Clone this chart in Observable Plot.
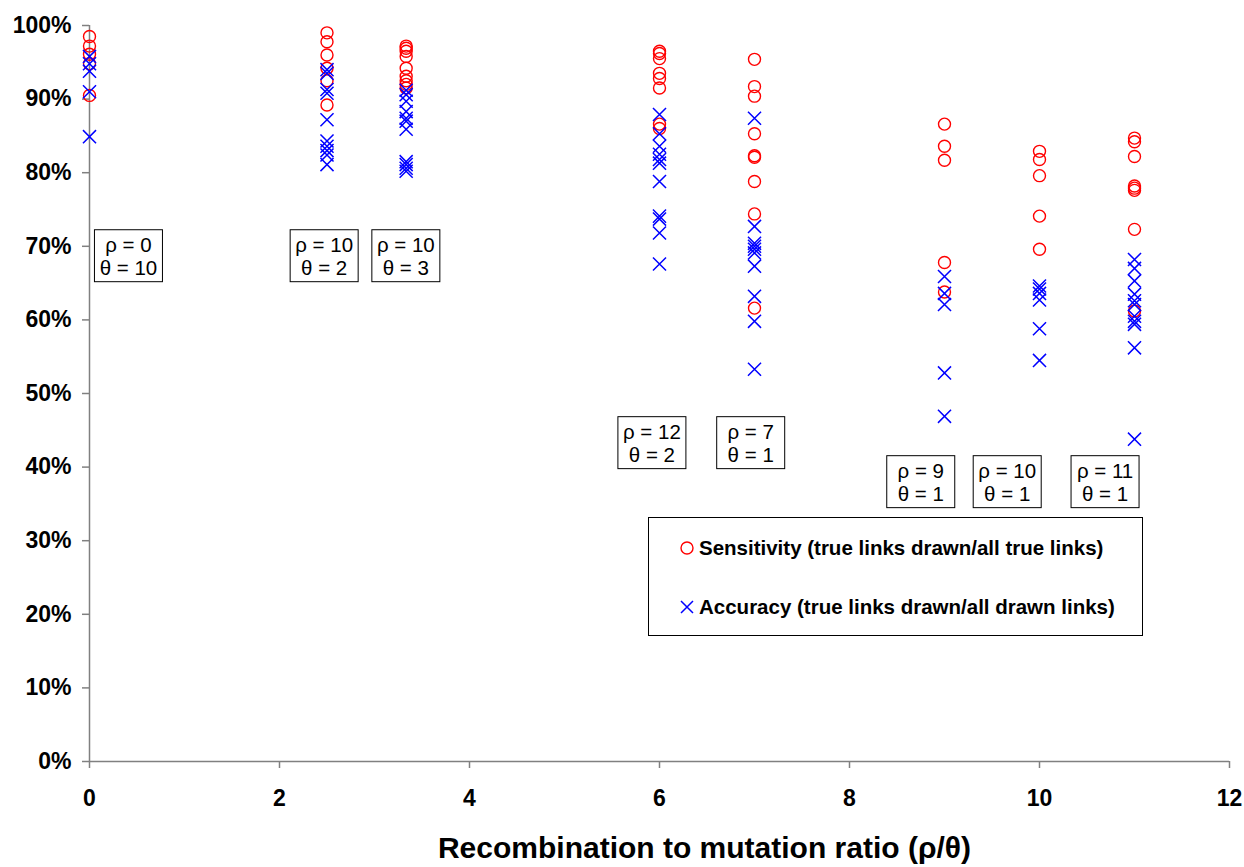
<!DOCTYPE html>
<html>
<head>
<meta charset="utf-8">
<script src="https://cdn.jsdelivr.net/npm/d3@7"></script>
<script src="https://cdn.jsdelivr.net/npm/@observablehq/plot@0.6"></script>
<style>
  html, body { margin: 0; padding: 0; background: #fff; }
  #wrap { position: relative; width: 1244px; height: 867px; font-family: "Liberation Sans", Arial, sans-serif; }
  #legend { position: absolute; left: 648px; top: 517px; width: 493px; height: 117px; border: 1px solid #000; background: #fff; }
  .item { position: absolute; left: 30px; display: flex; align-items: center; font-weight: bold; font-size: 20.5px; color: #000; white-space: nowrap; }
  .item svg { margin-right: 4px; }
</style>
</head>
<body>
<div id="wrap"></div>
<script>
// Recombination-to-mutation ratios (x) of the clusters
const ratios = [0, 2.5, 10 / 3, 6, 7, 9, 10, 11];

// Sensitivity (%) per cluster
const sens0 = [98.5, 97.2, 96.1, 94.8, 90.5];
const sens25 = [99.0, 97.8, 96.0, 94.2, 92.5, 89.2];
const sens33 = [97.2, 96.9, 96.5, 95.8, 94.2, 93.1, 92.5, 92.0, 91.5];
const sens6 = [96.5, 96.2, 95.5, 93.5, 92.8, 91.5, 86.6, 86.0];
const sens7 = [95.4, 91.7, 90.4, 85.3, 82.3, 82.1, 78.8, 74.4, 61.6];
const sens9 = [86.6, 83.6, 81.7, 67.8, 63.8];
const sens10 = [82.9, 81.8, 79.6, 74.1, 69.6];
const sens11 = [84.7, 84.2, 82.2, 78.2, 77.9, 77.6, 72.3, 61.2];

// Accuracy (%) per cluster
const acc0 = [95.8, 94.8, 93.8, 91.0, 84.9];
const acc25 = [94.0, 93.5, 91.3, 90.8, 87.2, 84.3, 83.6, 83.0, 82.4, 81.1];
const acc33 = [91.2, 90.6, 89.7, 88.3, 87.4, 87.0, 85.9, 81.5, 81.1, 80.6, 80.2];
const acc6 = [87.9, 85.3, 83.6, 82.5, 81.8, 81.3, 78.8, 74.1, 73.7, 71.8, 67.6];
const acc7 = [87.4, 72.7, 70.4, 70.0, 69.6, 69.1, 67.3, 63.2, 59.8, 53.3];
const acc9 = [65.9, 63.6, 62.1, 52.8, 46.9];
const acc10 = [64.6, 64.2, 63.6, 62.7, 58.8, 54.5];
const acc11 = [68.2, 67.0, 65.3, 63.5, 62.6, 62.1, 60.5, 59.8, 59.4, 56.2, 43.8];

// Cluster annotations
const annText = ["ρ = 0\nθ = 10", "ρ = 10\nθ = 2", "ρ = 10\nθ = 3", "ρ = 12\nθ = 2", "ρ = 7\nθ = 1", "ρ = 9\nθ = 1", "ρ = 10\nθ = 1", "ρ = 11\nθ = 1"];
const annX = [0.41, 2.47, 3.33, 5.92, 6.96, 8.75, 9.66, 10.69];
const annY = [68.7, 68.7, 68.7, 43.3, 43.3, 38.0, 38.0, 38.0];

// Axis ticks
const xTicks = [0, 2, 4, 6, 8, 10, 12];
const yTicks = [0, 10, 20, 30, 40, 50, 60, 70, 80, 90, 100];

const xTitle = "Recombination to mutation ratio (ρ/θ)";
const legendLabels = ["Sensitivity (true links drawn/all true links)", "Accuracy (true links drawn/all drawn links)"];

const sensGroups = [sens0, sens25, sens33, sens6, sens7, sens9, sens10, sens11];
const accGroups = [acc0, acc25, acc33, acc6, acc7, acc9, acc10, acc11];
const sensData = sensGroups.flatMap((vals, i) => vals.map(v => ({x: ratios[i], y: v})));
const accData = accGroups.flatMap((vals, i) => vals.map(v => ({x: ratios[i], y: v})));
const annData = annText.map((t, i) => ({t, x: annX[i], y: annY[i]}));

const chart = Plot.plot({
  width: 1244,
  height: 867,
  marginLeft: 89,
  marginRight: 15,
  marginTop: 25,
  marginBottom: 106,
  style: {fontFamily: '"Liberation Sans", Arial, sans-serif', background: "#fff"},
  x: {domain: [0, 12]},
  y: {domain: [0, 100]},
  marks: [
    Plot.axisY({ticks: yTicks, tickSize: 7, tickPadding: 11, tickFormat: d => d + "%", fontSize: 23, fontWeight: "bold", stroke: "#808080", strokeWidth: 1.5, fill: "#000", label: null}),
    Plot.axisX({ticks: xTicks, tickSize: 7, tickPadding: 21, tickFormat: d => String(d), fontSize: 23, fontWeight: "bold", stroke: "#808080", strokeWidth: 1.5, fill: "#000", label: null}),
    Plot.ruleX([0], {stroke: "#808080", strokeWidth: 1.5}),
    Plot.ruleY([0], {stroke: "#808080", strokeWidth: 1.5}),
    Plot.dot(sensData, {x: "x", y: "y", r: 6, symbol: "circle", stroke: "#ff0000", strokeWidth: 1.4, fill: "none"}),
    Plot.dot(accData, {x: "x", y: "y", r: 6, symbol: "times", stroke: "#0000ff", strokeWidth: 1.5}),
    Plot.text(annData, {x: "x", y: "y", text: "t", fontSize: 20.5, lineHeight: 1.12, lineAnchor: "middle", textAnchor: "middle", fill: "#000"}),
    Plot.text([xTitle], {frameAnchor: "bottom", dx: 45, dy: 87, fontSize: 30, fontWeight: "bold", lineAnchor: "middle", fill: "#000"})
  ]
});

const wrap = document.getElementById("wrap");
wrap.append(chart);

// boxes around annotations
chart.querySelectorAll("text").forEach(function(el) {
  if (!el.textContent.startsWith("ρ =")) return;
  const b = el.getBBox();
  const padY = 3;
  const w = Math.max(b.width + 8, 68);
  const cx = b.x + b.width / 2;
  const rect = document.createElementNS("http://www.w3.org/2000/svg", "rect");
  rect.setAttribute("x", cx - w / 2);
  rect.setAttribute("y", b.y - padY);
  rect.setAttribute("width", w);
  rect.setAttribute("height", b.height + 2 * padY);
  rect.setAttribute("fill", "#fff");
  rect.setAttribute("stroke", "#000");
  rect.setAttribute("stroke-width", 1);
  const tr = el.getAttribute("transform");
  if (tr) rect.setAttribute("transform", tr);
  el.parentNode.insertBefore(rect, el);
});

// legend
const legend = document.createElement("div");
legend.id = "legend";
const item1 = document.createElement("div");
item1.className = "item";
item1.style.top = "18px";
item1.innerHTML = '<svg width="16" height="16"><circle cx="8" cy="8" r="6" fill="none" stroke="#ff0000" stroke-width="1.4"/></svg>';
item1.append(legendLabels[0]);
const item2 = document.createElement("div");
item2.className = "item";
item2.style.top = "77px";
item2.innerHTML = '<svg width="16" height="16"><path d="M2,2L14,14M14,2L2,14" stroke="#0000ff" stroke-width="1.5"/></svg>';
item2.append(legendLabels[1]);
legend.append(item1, item2);
wrap.append(legend);
</script>
</body>
</html>
